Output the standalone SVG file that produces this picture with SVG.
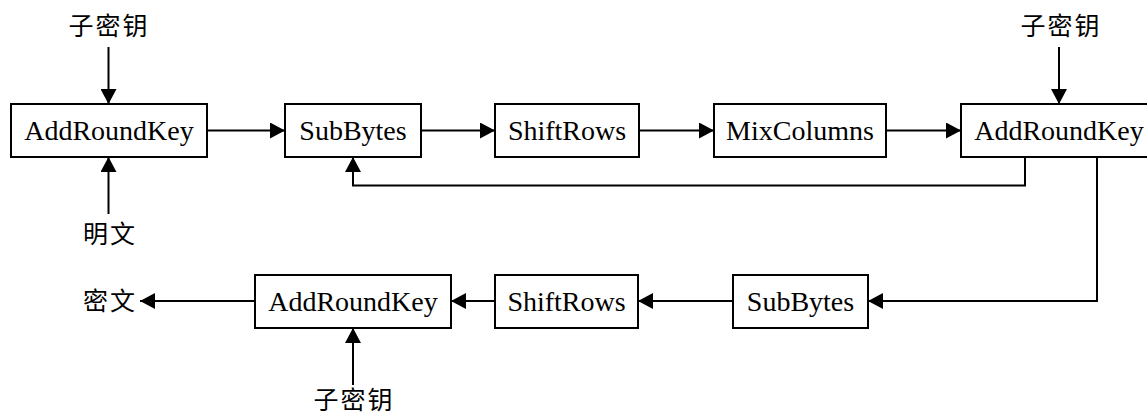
<svg xmlns="http://www.w3.org/2000/svg" width="1147" height="415" viewBox="0 0 1147 415">
<style>
.box{fill:#fff;stroke:#000;stroke-width:2}
.t{font-family:"Liberation Serif","Times New Roman",serif;font-size:28px;text-anchor:middle;fill:#000}
.c{font-family:"Noto Sans CJK SC",sans-serif;font-size:25px;letter-spacing:2px;text-anchor:middle;fill:#000}
.ln{fill:none;stroke:#000;stroke-width:2}
</style>
<defs>
<marker id="ah" markerWidth="15" markerHeight="16" refX="15" refY="8" orient="auto" markerUnits="userSpaceOnUse">
<path d="M0,0 L15,8 L0,16 Z" fill="#000"/>
</marker>
</defs>
<rect width="1147" height="415" fill="#fff"/>
<g id="connectors">
<line class="ln" x1="108.5" y1="47" x2="108.5" y2="104" marker-end="url(#ah)"/>
<line class="ln" x1="108.5" y1="214" x2="108.5" y2="157" marker-end="url(#ah)"/>
<line class="ln" x1="207" y1="130.5" x2="285" y2="130.5" marker-end="url(#ah)"/>
<line class="ln" x1="421" y1="130.5" x2="495" y2="130.5" marker-end="url(#ah)"/>
<line class="ln" x1="639" y1="130.5" x2="714" y2="130.5" marker-end="url(#ah)"/>
<line class="ln" x1="886" y1="130.5" x2="961" y2="130.5" marker-end="url(#ah)"/>
<line class="ln" x1="1059" y1="47" x2="1059" y2="104" marker-end="url(#ah)"/>
<polyline class="ln" points="1025,157 1025,185.5 353,185.5 353,157" marker-end="url(#ah)"/>
<polyline class="ln" points="1097,157 1097,301 868,301" marker-end="url(#ah)"/>
<line class="ln" x1="733" y1="301" x2="638" y2="301" marker-end="url(#ah)"/>
<line class="ln" x1="495" y1="301" x2="451" y2="301" marker-end="url(#ah)"/>
<line class="ln" x1="255" y1="301" x2="140" y2="301" marker-end="url(#ah)"/>
<line class="ln" x1="353" y1="385" x2="353" y2="328" marker-end="url(#ah)"/>
</g>
<g id="key1"><text class="c" x="109" y="35">子密钥</text></g>
<g id="plain"><text class="c" x="110" y="243">明文</text></g>
<g id="ark1"><rect class="box" x="11" y="104" width="196" height="53"/><text class="t" x="109" y="140">AddRoundKey</text></g>
<g id="sb1"><rect class="box" x="285" y="104" width="136" height="53"/><text class="t" x="353" y="140">SubBytes</text></g>
<g id="sr1"><rect class="box" x="495" y="104" width="144" height="53"/><text class="t" x="567" y="140">ShiftRows</text></g>
<g id="mc"><rect class="box" x="714" y="104" width="172" height="53"/><text class="t" x="800" y="140">MixColumns</text></g>
<g id="key2"><text class="c" x="1061" y="35">子密钥</text></g>
<g id="ark2"><rect class="box" x="961" y="104" width="196" height="53"/><text class="t" x="1059" y="140">AddRoundKey</text></g>
<g id="sb2"><rect class="box" x="733" y="275" width="135" height="53"/><text class="t" x="800.5" y="310.5">SubBytes</text></g>
<g id="sr2"><rect class="box" x="495" y="275" width="143" height="53"/><text class="t" x="566.5" y="310.5">ShiftRows</text></g>
<g id="ark3"><rect class="box" x="255" y="275" width="196" height="53"/><text class="t" x="353" y="310.5">AddRoundKey</text></g>
<g id="cipher"><text class="c" x="110" y="310">密文</text></g>
<g id="key3"><text class="c" x="354" y="409">子密钥</text></g>
</svg>
